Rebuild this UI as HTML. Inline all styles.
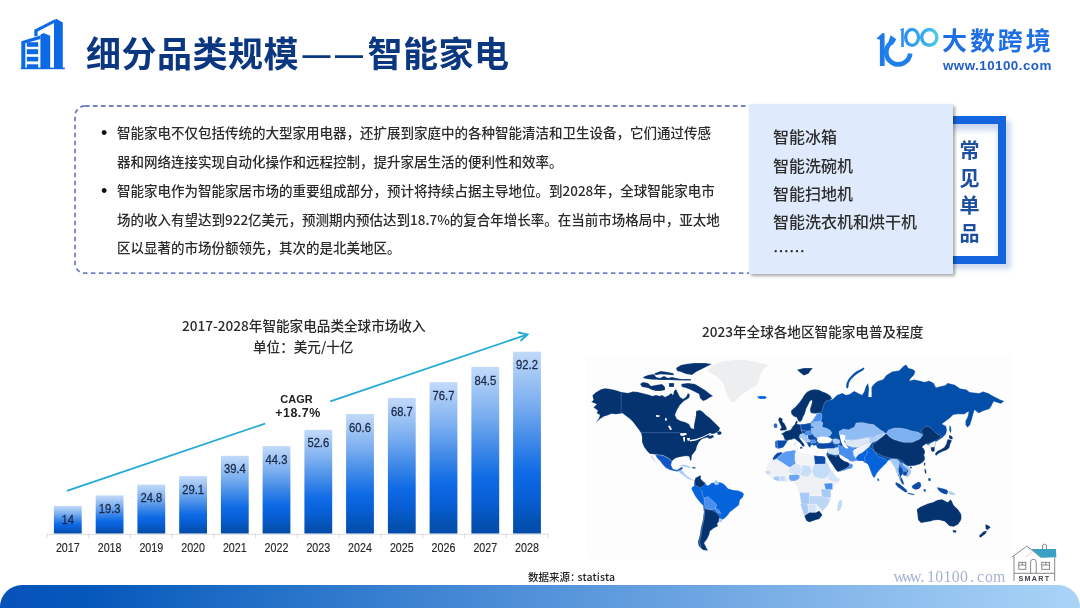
<!DOCTYPE html>
<html lang="zh-CN">
<head>
<meta charset="utf-8">
<title>细分品类规模——智能家电</title>
<style>
*{margin:0;padding:0;box-sizing:border-box}
html,body{width:1080px;height:608px;overflow:hidden;background:#fff}
body{position:relative;font-family:"Liberation Sans","Noto Sans CJK SC",sans-serif;color:#333}
.a{position:absolute;white-space:nowrap}
.cjk{font-family:"Noto Sans CJK SC","Liberation Sans",sans-serif}
#title{left:86px;top:27px;font-size:35px;font-weight:700;color:#0b3781;letter-spacing:0.5px;line-height:50px}
.dash{font-family:"Liberation Sans",sans-serif;font-size:28px;letter-spacing:4.5px;margin-left:3.5px;position:relative;top:-3.5px}
#logo-cn{left:942px;top:22px;font-size:25px;font-weight:700;color:#1d6fe3;line-height:34px;letter-spacing:2.9px}
#logo-url{left:943px;top:58px;font-size:13.4px;font-weight:700;color:#1f5fc6;line-height:16px;letter-spacing:0.45px}
.bl{font-size:13.5px;line-height:28.8px;color:#2b2b2b;font-weight:500}
.bu{font-family:"Liberation Sans",sans-serif;font-size:18px;line-height:28.8px;color:#111}
#lbox{left:749px;top:104px;width:204px;height:170px;background:#dfebfc;box-shadow:2px 2px 3px rgba(0,0,0,.35)}
.li{font-size:16px;line-height:28.4px;color:#2e2e2e;font-weight:500}
#frame{left:946px;top:116px;width:60px;height:148px;border:8.5px solid #1465dd;border-left:none;box-shadow:5px 5px 5px rgba(120,150,210,.35), inset 0 6px 6px rgba(120,150,210,.4)}
#vt{left:959px;top:136px;width:21px;font-size:20px;font-weight:700;color:#1d4fa0;line-height:27.6px;white-space:normal;text-align:center}
.ct{font-size:13.6px;color:#2a2a2a;line-height:18px;font-weight:500}
#botbar{left:0;top:585px;width:1080px;height:40px;border-radius:22px 22px 0 0;background:linear-gradient(90deg,#0652b9 0%,#0657bb 8%,#2371c8 25%,#5292d9 50%,#80b3e8 75%,#9ecbf3 92.6%,#aad3f6 100%)}
#wm{left:893.5px;top:568px;font-family:"Liberation Serif",serif;font-size:15.8px;color:#a7b1d2;line-height:18px;letter-spacing:0px}
#wm span{display:inline-block;width:8.3px;text-align:center}
#src{left:528px;top:569px;font-size:10.5px;color:#222;line-height:16px;font-weight:500}
</style>
</head>
<body>
<!-- header icon -->
<svg class="a" style="left:0;top:0" width="80" height="80" viewBox="0 0 80 80">
  <g fill="#0b69e6">
    <!-- right tall tower -->
    <path d="M54 21 L56.3 18.8 L62.8 22.6 L62.8 68.5 L54 68.5 Z"/>
    <!-- back frame -->
    <path d="M34.3 29.8 L55 19.2 L55 22.6 L37.6 31.6 L37.6 35.8 L34.3 36.6 Z"/>
    <!-- middle tower -->
    <path d="M40.4 34.8 L43.4 33 L50.2 35.8 L50.2 68.5 L40.4 68.5 Z"/>
    <!-- left building outline -->
    <path d="M21.3 68.5 L21.3 41.2 L40.4 35.6 L40.4 39 L25.3 43.2 L25.3 68.5 Z"/>
    <!-- windows -->
    <rect x="26.8" y="42.2" width="11.4" height="4.6"/>
    <rect x="26.8" y="49.2" width="11.4" height="5"/>
    <rect x="26.8" y="56.8" width="11.4" height="4.6"/>
    <rect x="26.8" y="64.3" width="11.4" height="4.4"/>
    <!-- base -->
    <rect x="20.8" y="67.6" width="44" height="1.6"/>
  </g>
</svg>
<div id="title" class="a cjk">细分品类规模<span class="dash">——</span>智能家电</div>

<!-- logo -->
<svg class="a" style="left:860px;top:15px" width="90" height="60" viewBox="860 15 90 60">
  <defs>
    <linearGradient id="lg1" x1="0" y1="0" x2="1" y2="0">
      <stop offset="0" stop-color="#2b8fee"/><stop offset="1" stop-color="#3aa8ec"/>
    </linearGradient>
    <linearGradient id="lg2" x1="0" y1="0" x2="1" y2="0"><stop offset="0" stop-color="#36a6ec"/><stop offset="1" stop-color="#4ccbe4"/></linearGradient>
  </defs>
  <path d="M876.5 38.5 L882.5 33 L884.6 33.5 L884.6 66 L879.9 66 L879.9 39.6 L878 39.3 Z" fill="#1e7ae8"/>
  <path d="M891.6 42.4 A12 12 0 1 0 910.2 53.6" fill="none" stroke="#1e80ea" stroke-width="4.7"/>
  <path d="M888.2 42.5 L890.6 35.2 L896.4 39.2 L893.2 44.5 Z" fill="#1e80ea"/>
  <path d="M899.6 29.8 L903.8 27.7 L903.8 47 L901.2 47 L901.2 30.8 Z" fill="#2c8eec"/>
  <ellipse cx="912.1" cy="37.4" rx="6.4" ry="8.0" fill="none" stroke="url(#lg1)" stroke-width="3.3"/>
  <ellipse cx="929.3" cy="37.4" rx="7.6" ry="7.9" fill="none" stroke="url(#lg2)" stroke-width="3.4"/>
</svg>
<div id="logo-cn" class="a cjk">大数跨境</div>
<div id="logo-url" class="a">www.10100.com</div>

<!-- text box -->
<svg class="a" style="left:0;top:0" width="1080" height="300" viewBox="0 0 1080 300"><rect x="75" y="106" width="700" height="167.2" rx="10" fill="none" stroke="#7080c4" stroke-width="1.8" stroke-dasharray="4.5 3.5"/></svg>
<div class="a bu" style="left:101px;top:118.5px">•</div>
<div class="a bl cjk" style="left:117px;top:118px">智能家电不仅包括传统的大型家用电器，还扩展到家庭中的各种智能清洁和卫生设备，它们通过传感</div>
<div class="a bl cjk" style="left:117px;top:147px">器和网络连接实现自动化操作和远程控制，提升家居生活的便利性和效率。</div>
<div class="a bu" style="left:101px;top:176.5px">•</div>
<div class="a bl cjk" style="left:117px;top:176px">智能家电作为智能家居市场的重要组成部分，预计将持续占据主导地位。到2028年，全球智能家电市</div>
<div class="a bl cjk" style="left:117px;top:205px">场的收入有望达到922亿美元，预测期内预估达到18.7%的复合年增长率。在当前市场格局中，亚太地</div>
<div class="a bl cjk" style="left:117px;top:233px">区以显著的市场份额领先，其次的是北美地区。</div>

<div id="frame" class="a"></div>
<div id="lbox" class="a"></div>
<div class="a li cjk" style="left:773px;top:122px">智能冰箱</div>
<div class="a li cjk" style="left:773px;top:151px">智能洗碗机</div>
<div class="a li cjk" style="left:773px;top:179px">智能扫地机</div>
<div class="a li cjk" style="left:773px;top:207px">智能洗衣机和烘干机</div>
<div class="a li cjk" style="left:773px;top:236px">……</div>
<div id="vt" class="a cjk">常见单品</div>

<!-- bar chart -->
<div class="a ct cjk" style="left:182px;top:315.6px">2017-2028年智能家电品类全球市场收入</div>
<div class="a ct cjk" style="left:253px;top:336.8px">单位：美元/十亿</div>
<svg id="bars" class="a" style="left:0;top:300px" width="560" height="260" viewBox="0 300 560 260"><defs><linearGradient id="bg" x1="0" y1="0" x2="0" y2="1"><stop offset="0" stop-color="#c2daf9"/><stop offset="0.29" stop-color="#7aaef0"/><stop offset="0.485" stop-color="#418ae8"/><stop offset="0.67" stop-color="#0e6ae5"/><stop offset="0.8" stop-color="#085fd6"/><stop offset="0.945" stop-color="#0350b0"/><stop offset="1" stop-color="#034cab"/></linearGradient></defs>
<line x1="46.9" y1="534.3" x2="547.9" y2="534.3" stroke="#dedede" stroke-width="1"/>
<line x1="46.9" y1="533.5" x2="46.9" y2="538.0" stroke="#d9d9d9" stroke-width="1"/>
<line x1="88.7" y1="533.5" x2="88.7" y2="538.0" stroke="#d9d9d9" stroke-width="1"/>
<line x1="130.4" y1="533.5" x2="130.4" y2="538.0" stroke="#d9d9d9" stroke-width="1"/>
<line x1="172.2" y1="533.5" x2="172.2" y2="538.0" stroke="#d9d9d9" stroke-width="1"/>
<line x1="213.9" y1="533.5" x2="213.9" y2="538.0" stroke="#d9d9d9" stroke-width="1"/>
<line x1="255.7" y1="533.5" x2="255.7" y2="538.0" stroke="#d9d9d9" stroke-width="1"/>
<line x1="297.4" y1="533.5" x2="297.4" y2="538.0" stroke="#d9d9d9" stroke-width="1"/>
<line x1="339.2" y1="533.5" x2="339.2" y2="538.0" stroke="#d9d9d9" stroke-width="1"/>
<line x1="380.9" y1="533.5" x2="380.9" y2="538.0" stroke="#d9d9d9" stroke-width="1"/>
<line x1="422.7" y1="533.5" x2="422.7" y2="538.0" stroke="#d9d9d9" stroke-width="1"/>
<line x1="464.4" y1="533.5" x2="464.4" y2="538.0" stroke="#d9d9d9" stroke-width="1"/>
<line x1="506.2" y1="533.5" x2="506.2" y2="538.0" stroke="#d9d9d9" stroke-width="1"/>
<line x1="547.9" y1="533.5" x2="547.9" y2="538.0" stroke="#d9d9d9" stroke-width="1"/>
<rect x="53.9" y="505.9" width="27.8" height="27.6" fill="url(#bg)"/>
<text transform="translate(67.8 523.5) scale(0.89 1)" text-anchor="middle" font-family="Liberation Sans, sans-serif" font-size="12.6" fill="#1b2a46" stroke="#1b2a46" stroke-width="0.3">14</text>
<text transform="translate(67.8 552.1) scale(0.85 1)" text-anchor="middle" font-family="Liberation Sans, sans-serif" font-size="12.6" fill="#262626" stroke="#262626" stroke-width="0.15">2017</text>
<rect x="95.7" y="495.4" width="27.8" height="38.1" fill="url(#bg)"/>
<text transform="translate(109.6 513.0) scale(0.89 1)" text-anchor="middle" font-family="Liberation Sans, sans-serif" font-size="12.6" fill="#1b2a46" stroke="#1b2a46" stroke-width="0.3">19.3</text>
<text transform="translate(109.6 552.1) scale(0.85 1)" text-anchor="middle" font-family="Liberation Sans, sans-serif" font-size="12.6" fill="#262626" stroke="#262626" stroke-width="0.15">2018</text>
<rect x="137.4" y="484.6" width="27.8" height="48.9" fill="url(#bg)"/>
<text transform="translate(151.3 502.2) scale(0.89 1)" text-anchor="middle" font-family="Liberation Sans, sans-serif" font-size="12.6" fill="#1b2a46" stroke="#1b2a46" stroke-width="0.3">24.8</text>
<text transform="translate(151.3 552.1) scale(0.85 1)" text-anchor="middle" font-family="Liberation Sans, sans-serif" font-size="12.6" fill="#262626" stroke="#262626" stroke-width="0.15">2019</text>
<rect x="179.2" y="476.1" width="27.8" height="57.4" fill="url(#bg)"/>
<text transform="translate(193.1 493.7) scale(0.89 1)" text-anchor="middle" font-family="Liberation Sans, sans-serif" font-size="12.6" fill="#1b2a46" stroke="#1b2a46" stroke-width="0.3">29.1</text>
<text transform="translate(193.1 552.1) scale(0.85 1)" text-anchor="middle" font-family="Liberation Sans, sans-serif" font-size="12.6" fill="#262626" stroke="#262626" stroke-width="0.15">2020</text>
<rect x="220.9" y="455.8" width="27.8" height="77.7" fill="url(#bg)"/>
<text transform="translate(234.8 473.4) scale(0.89 1)" text-anchor="middle" font-family="Liberation Sans, sans-serif" font-size="12.6" fill="#1b2a46" stroke="#1b2a46" stroke-width="0.3">39.4</text>
<text transform="translate(234.8 552.1) scale(0.85 1)" text-anchor="middle" font-family="Liberation Sans, sans-serif" font-size="12.6" fill="#262626" stroke="#262626" stroke-width="0.15">2021</text>
<rect x="262.6" y="446.1" width="27.8" height="87.4" fill="url(#bg)"/>
<text transform="translate(276.5 463.7) scale(0.89 1)" text-anchor="middle" font-family="Liberation Sans, sans-serif" font-size="12.6" fill="#1b2a46" stroke="#1b2a46" stroke-width="0.3">44.3</text>
<text transform="translate(276.5 552.1) scale(0.85 1)" text-anchor="middle" font-family="Liberation Sans, sans-serif" font-size="12.6" fill="#262626" stroke="#262626" stroke-width="0.15">2022</text>
<rect x="304.4" y="429.8" width="27.8" height="103.7" fill="url(#bg)"/>
<text transform="translate(318.3 447.4) scale(0.89 1)" text-anchor="middle" font-family="Liberation Sans, sans-serif" font-size="12.6" fill="#1b2a46" stroke="#1b2a46" stroke-width="0.3">52.6</text>
<text transform="translate(318.3 552.1) scale(0.85 1)" text-anchor="middle" font-family="Liberation Sans, sans-serif" font-size="12.6" fill="#262626" stroke="#262626" stroke-width="0.15">2023</text>
<rect x="346.1" y="414.0" width="27.8" height="119.5" fill="url(#bg)"/>
<text transform="translate(360.0 431.6) scale(0.89 1)" text-anchor="middle" font-family="Liberation Sans, sans-serif" font-size="12.6" fill="#1b2a46" stroke="#1b2a46" stroke-width="0.3">60.6</text>
<text transform="translate(360.0 552.1) scale(0.85 1)" text-anchor="middle" font-family="Liberation Sans, sans-serif" font-size="12.6" fill="#262626" stroke="#262626" stroke-width="0.15">2024</text>
<rect x="387.9" y="398.0" width="27.8" height="135.5" fill="url(#bg)"/>
<text transform="translate(401.8 415.6) scale(0.89 1)" text-anchor="middle" font-family="Liberation Sans, sans-serif" font-size="12.6" fill="#1b2a46" stroke="#1b2a46" stroke-width="0.3">68.7</text>
<text transform="translate(401.8 552.1) scale(0.85 1)" text-anchor="middle" font-family="Liberation Sans, sans-serif" font-size="12.6" fill="#262626" stroke="#262626" stroke-width="0.15">2025</text>
<rect x="429.6" y="382.2" width="27.8" height="151.3" fill="url(#bg)"/>
<text transform="translate(443.5 399.8) scale(0.89 1)" text-anchor="middle" font-family="Liberation Sans, sans-serif" font-size="12.6" fill="#1b2a46" stroke="#1b2a46" stroke-width="0.3">76.7</text>
<text transform="translate(443.5 552.1) scale(0.85 1)" text-anchor="middle" font-family="Liberation Sans, sans-serif" font-size="12.6" fill="#262626" stroke="#262626" stroke-width="0.15">2026</text>
<rect x="471.4" y="366.9" width="27.8" height="166.6" fill="url(#bg)"/>
<text transform="translate(485.3 384.5) scale(0.89 1)" text-anchor="middle" font-family="Liberation Sans, sans-serif" font-size="12.6" fill="#1b2a46" stroke="#1b2a46" stroke-width="0.3">84.5</text>
<text transform="translate(485.3 552.1) scale(0.85 1)" text-anchor="middle" font-family="Liberation Sans, sans-serif" font-size="12.6" fill="#262626" stroke="#262626" stroke-width="0.15">2027</text>
<rect x="513.1" y="351.7" width="27.8" height="181.8" fill="url(#bg)"/>
<text transform="translate(527.0 369.3) scale(0.89 1)" text-anchor="middle" font-family="Liberation Sans, sans-serif" font-size="12.6" fill="#1b2a46" stroke="#1b2a46" stroke-width="0.3">92.2</text>
<text transform="translate(527.0 552.1) scale(0.85 1)" text-anchor="middle" font-family="Liberation Sans, sans-serif" font-size="12.6" fill="#262626" stroke="#262626" stroke-width="0.15">2028</text>
<g stroke="#22aad6" stroke-width="1.8" fill="none" stroke-linecap="round"><line x1="67.6" y1="490.6" x2="264.4" y2="423.8"/><line x1="331" y1="401.1" x2="527" y2="334.6"/><polyline points="518.5,332.5 527.5,334.4 521,340.5"/></g>
<text x="296.5" y="402.5" text-anchor="middle" font-family="Liberation Sans, sans-serif" font-weight="bold" font-size="11" fill="#222">CAGR</text>
<text x="298" y="416.7" text-anchor="middle" font-family="Liberation Sans, sans-serif" font-weight="bold" font-size="12.4" letter-spacing="0.5" fill="#222">+18.7%</text></svg>

<!-- map -->
<div class="a ct cjk" style="left:702px;top:321.6px">2023年全球各地区智能家电普及程度</div>
<svg id="map" class="a" style="left:570px;top:340px" width="450" height="230" viewBox="570 340 450 230"><rect x="586" y="355" width="426" height="204" fill="#fdfdfd"/>
<path d="M595.6 392.4 L601.0 389.2 L605.3 388.2 L611.7 389.2 L616.0 390.3 L621.3 391.9 L628.0 393.0 L633.0 391.5 L638.0 392.0 L642.0 393.0 L646.0 394.0 L650.0 395.0 L652.0 396.0 L656.0 395.0 L660.0 396.0 L662.0 395.0 L665.0 397.0 L669.0 395.0 L671.0 393.0 L673.0 395.0 L674.0 391.0 L676.0 389.0 L678.0 393.0 L680.0 397.0 L683.0 399.0 L686.0 397.0 L688.0 393.0 L690.0 395.0 L689.0 398.0 L686.0 400.0 L684.0 401.0 L680.0 405.0 L677.0 410.0 L675.0 415.0 L677.0 419.0 L681.0 421.0 L685.0 422.0 L689.0 424.0 L691.0 428.0 L694.0 429.0 L694.0 425.0 L695.0 420.0 L696.0 415.0 L696.0 411.0 L700.0 410.0 L703.0 412.0 L706.0 415.0 L710.0 418.0 L713.0 421.0 L717.0 425.0 L720.0 428.0 L719.0 431.0 L716.0 433.0 L713.0 434.0 L710.0 433.5 L709.0 436.0 L713.0 435.0 L714.0 437.0 L710.0 439.0 L707.0 437.5 L702.0 439.0 L699.0 442.0 L697.0 446.0 L696.0 450.0 L693.0 454.0 L692.0 455.3 L691.4 459.9 L690.3 461.1 L689.1 456.5 L686.0 456.0 L680.0 457.0 L676.0 458.0 L673.0 460.0 L672.0 461.5 L669.0 458.5 L663.0 455.5 L655.0 454.5 L651.7 454.0 L650.0 454.0 L647.0 451.0 L644.0 447.0 L642.0 442.0 L642.0 437.0 L641.0 433.0 L639.0 430.0 L636.0 426.0 L633.0 422.0 L630.0 419.0 L626.0 416.0 L622.0 413.0 L621.5 413.5 L616.0 414.3 L611.5 413.8 L608.0 415.3 L604.0 416.5 L600.0 419.0 L595.5 423.0 L599.0 418.0 L599.9 414.9 L596.7 413.3 L597.8 410.6 L593.5 407.4 L596.7 404.2 L591.3 402.0 L593.5 400.0 L592.4 395.6Z" fill="#053370" stroke="#ffffff" stroke-opacity="0.55" stroke-width="0.4"/>
<path d="M680.0 433.3 L686.0 433.0 L687.0 434.5 L683.0 436.0 L680.5 435.5Z" fill="#ffffff"/>
<path d="M683.0 437.0 L685.0 437.0 L685.0 442.0 L683.5 441.0Z" fill="#ffffff"/>
<path d="M687.0 438.0 L690.0 438.0 L689.5 441.0 L687.5 440.5Z" fill="#ffffff"/>
<path d="M690.0 440.0 L696.0 439.0 L703.0 436.5 L710.0 433.0 L710.5 433.8 L703.0 437.5 L696.0 440.5 L690.0 441.5Z" fill="#ffffff"/>
<path d="M656.0 415.0 L660.0 415.5 L659.0 417.0 L656.0 416.8Z" fill="#ffffff"/>
<path d="M665.0 418.0 L667.0 418.5 L666.5 421.0 L665.0 420.5Z" fill="#ffffff"/>
<path d="M668.0 426.0 L670.0 425.5 L672.0 429.5 L670.0 430.0Z" fill="#ffffff"/>
<path d="M640.0 384.0 L643.0 382.0 L648.0 383.0 L651.0 386.0 L656.0 385.0 L662.0 384.0 L665.0 387.0 L665.0 390.0 L661.0 391.0 L656.0 391.0 L652.0 390.0 L648.0 388.0 L642.0 387.0Z" fill="#053370" stroke="#ffffff" stroke-opacity="0.55" stroke-width="0.4"/>
<path d="M643.0 377.0 L648.0 375.0 L654.0 374.0 L656.0 377.0 L660.0 378.0 L664.0 376.0 L668.0 378.0 L672.0 377.0 L676.0 378.0 L681.0 379.0 L691.0 379.0 L691.0 380.5 L681.0 380.5 L671.0 380.0 L661.0 380.0 L651.0 379.5 L644.0 378.5Z" fill="#053370" stroke="#ffffff" stroke-opacity="0.55" stroke-width="0.4"/>
<path d="M676.0 368.0 L681.0 365.0 L686.0 364.0 L694.0 363.0 L705.0 363.0 L712.0 364.0 L708.0 366.0 L702.0 369.0 L696.0 372.0 L692.0 375.0 L686.0 374.0 L681.0 372.0 L677.0 371.0Z" fill="#053370" stroke="#ffffff" stroke-opacity="0.55" stroke-width="0.4"/>
<path d="M669.0 383.0 L674.0 383.0 L674.0 387.0 L669.0 387.0Z" fill="#053370" stroke="#ffffff" stroke-opacity="0.55" stroke-width="0.4"/>
<path d="M654.4 373.2 L660.9 371.0 L667.3 372.1 L673.7 373.2 L673.7 375.3 L667.3 374.8 L660.9 374.3 L655.5 375.3Z" fill="#053370" stroke="#ffffff" stroke-opacity="0.55" stroke-width="0.4"/>
<path d="M681.0 384.0 L688.0 383.0 L695.0 384.0 L700.0 387.0 L705.0 390.0 L710.0 394.0 L713.0 396.0 L709.0 398.0 L706.0 400.0 L703.0 401.0 L700.0 398.0 L699.0 394.0 L695.0 392.0 L691.0 390.0 L686.0 388.0 L682.0 387.0Z" fill="#053370" stroke="#ffffff" stroke-opacity="0.55" stroke-width="0.4"/>
<path d="M717.0 432.0 L720.0 431.0 L722.0 433.0 L720.0 435.0 L717.5 434.5Z" fill="#053370" stroke="#ffffff" stroke-opacity="0.55" stroke-width="0.4"/>
<path d="M707.0 370.0 L715.0 364.0 L725.0 361.0 L735.0 360.0 L745.0 360.0 L755.0 362.0 L766.0 364.0 L768.0 365.0 L763.0 370.0 L760.0 375.0 L759.0 381.0 L756.0 386.0 L750.0 389.0 L744.0 393.0 L739.0 397.0 L734.0 402.0 L731.0 402.0 L728.0 397.0 L725.0 389.0 L723.0 383.0 L718.0 377.0 L712.0 374.0Z" fill="#edeef0"/>
<path d="M757.0 396.5 L760.0 396.0 L765.0 396.0 L767.0 397.5 L765.0 399.0 L760.0 399.0 L758.0 398.0Z" fill="#0564dc" stroke="#ffffff" stroke-opacity="0.55" stroke-width="0.4"/>
<path d="M655.0 454.5 L663.0 455.5 L669.0 458.5 L672.0 461.5 L671.0 465.0 L673.0 469.0 L677.0 470.0 L680.0 468.0 L682.0 466.5 L683.0 468.5 L680.0 471.0 L677.0 471.5 L674.0 471.0 L670.0 470.0 L666.0 468.0 L663.0 465.0 L660.0 461.0 L657.0 458.0Z" fill="#1256c4" stroke="#ffffff" stroke-opacity="0.55" stroke-width="0.4"/>
<path d="M651.0 455.0 L653.0 458.0 L656.0 462.0 L657.0 463.5 L655.0 461.0 L652.0 457.5Z" fill="#1256c4" stroke="#ffffff" stroke-opacity="0.55" stroke-width="0.4"/>
<path d="M678.0 471.0 L682.0 470.0 L684.0 473.0 L687.0 476.0 L690.0 478.0 L694.0 480.0 L695.0 481.0 L692.0 480.0 L688.0 479.0 L684.0 476.0 L680.0 473.0Z" fill="#a6c9f5" stroke="#ffffff" stroke-opacity="0.55" stroke-width="0.4"/>
<path d="M679.0 465.0 L684.0 464.5 L689.0 466.0 L692.0 467.5 L688.0 467.8 L683.0 466.3Z" fill="#a6c9f5" stroke="#ffffff" stroke-opacity="0.55" stroke-width="0.4"/>
<path d="M692.0 467.0 L695.0 467.0 L696.0 468.5 L692.5 468.5Z" fill="#0a4aa8" stroke="#ffffff" stroke-opacity="0.55" stroke-width="0.4"/>
<path d="M694.5 481.0 L695.5 478.0 L700.0 475.5 L701.0 476.0 L700.5 478.5 L703.0 481.5 L705.0 482.5 L707.0 485.5 L710.0 484.5 L711.0 483.0 L714.0 482.5 L716.0 480.0 L718.0 482.0 L721.0 482.5 L723.0 483.5 L725.0 485.0 L728.0 488.5 L733.0 490.0 L738.0 490.5 L742.0 492.0 L744.0 494.0 L743.0 497.0 L740.0 500.0 L739.0 505.0 L734.0 509.0 L730.0 512.0 L728.0 515.0 L725.0 518.0 L722.0 520.0 L722.0 522.0 L719.0 521.5 L717.0 524.0 L718.0 526.0 L714.0 528.0 L710.0 531.0 L709.0 535.0 L707.0 539.0 L704.0 543.0 L707.0 549.0 L708.0 550.5 L703.0 550.0 L699.0 546.0 L698.0 542.0 L700.0 535.0 L701.0 528.0 L703.0 520.0 L704.0 512.0 L703.5 507.0 L703.0 505.5 L701.0 503.5 L698.0 500.0 L695.0 496.0 L693.0 492.0 L691.5 489.0 L692.0 487.0 L694.0 486.0 L694.0 483.0Z" fill="#0564dc" stroke="#ffffff" stroke-opacity="0.55" stroke-width="0.4"/>
<path d="M695.5 478.0 L700.0 475.5 L701.0 476.0 L700.5 478.5 L703.0 481.5 L705.0 482.5 L704.5 485.0 L702.5 486.5 L700.0 488.0 L697.5 486.5 L695.0 485.0 L694.5 481.0Z" fill="#053370" stroke="#ffffff" stroke-opacity="0.55" stroke-width="0.4"/>
<path d="M714.0 482.5 L716.0 480.0 L718.0 482.0 L719.0 484.0 L716.0 485.0 L714.5 484.0Z" fill="#a6c9f5" stroke="#ffffff" stroke-opacity="0.55" stroke-width="0.4"/>
<path d="M704.0 498.0 L708.0 496.5 L713.0 501.0 L717.0 505.0 L715.0 509.0 L710.0 510.0 L706.0 509.0 L704.5 505.0Z" fill="#4a8ff0" stroke="#ffffff" stroke-opacity="0.55" stroke-width="0.4"/>
<path d="M715.0 508.0 L719.0 510.0 L721.0 514.0 L718.0 513.0 L716.0 511.0Z" fill="#4a8ff0" stroke="#ffffff" stroke-opacity="0.55" stroke-width="0.4"/>
<path d="M703.0 505.5 L706.0 509.0 L710.0 510.0 L712.0 510.0 L717.0 513.0 L720.0 517.0 L719.0 521.0 L717.0 524.0 L718.0 526.0 L714.0 528.0 L710.0 531.0 L709.0 535.0 L707.0 539.0 L704.0 543.0 L707.0 549.0 L708.0 550.5 L703.0 550.0 L699.0 546.0 L698.0 542.0 L700.0 535.0 L701.0 528.0 L703.0 520.0 L704.0 512.0 L703.5 507.0Z" fill="#053370" stroke="#ffffff" stroke-opacity="0.55" stroke-width="0.4"/>
<path d="M719.0 518.5 L722.0 519.0 L722.0 522.0 L719.0 521.5Z" fill="#a6c9f5" stroke="#ffffff" stroke-opacity="0.55" stroke-width="0.4"/>
<path d="M779.0 448.5 L776.0 448.0 L775.0 445.0 L775.0 441.5 L777.0 440.5 L781.0 440.5 L784.5 440.6 L784.5 439.0 L784.0 437.5 L783.0 435.0 L781.0 434.0 L783.0 433.0 L786.0 431.0 L789.0 430.5 L791.0 429.5 L792.0 428.0 L793.0 426.0 L794.5 425.0 L795.5 422.5 L796.5 420.5 L797.5 421.5 L797.0 424.0 L800.0 424.5 L805.0 424.0 L810.0 423.0 L813.0 420.0 L815.0 417.0 L817.0 414.0 L820.0 413.0 L815.0 413.5 L811.0 413.0 L810.0 410.0 L811.0 406.0 L812.0 403.0 L812.0 400.0 L810.0 401.0 L808.0 405.0 L806.0 409.0 L805.0 413.0 L803.0 417.0 L802.0 420.0 L800.0 422.0 L798.0 420.5 L797.0 417.5 L794.0 416.5 L791.5 414.0 L791.0 411.0 L793.0 409.0 L796.0 406.5 L799.0 403.0 L802.0 399.0 L804.0 395.5 L807.0 392.0 L811.0 390.0 L815.0 389.5 L819.0 390.0 L822.0 391.5 L826.0 393.0 L830.0 395.5 L832.0 398.5 L830.0 400.0 L833.0 399.0 L835.0 397.0 L837.0 395.0 L840.0 394.0 L842.0 393.0 L846.0 395.0 L850.0 394.0 L854.0 391.0 L858.0 393.0 L862.0 395.0 L864.0 392.0 L866.0 386.0 L868.0 383.0 L869.0 388.0 L868.5 397.0 L871.5 397.0 L871.5 387.0 L875.0 383.0 L878.4 380.7 L883.0 379.6 L886.5 375.0 L892.3 371.5 L899.2 370.4 L903.8 365.8 L906.1 364.6 L908.4 368.1 L913.0 369.2 L915.3 371.5 L914.1 375.0 L910.7 378.4 L909.5 380.7 L914.1 379.6 L919.9 380.7 L924.5 381.9 L929.1 380.7 L933.7 383.0 L936.0 387.6 L939.5 386.5 L945.3 385.3 L947.6 383.0 L954.7 384.7 L960.0 388.4 L966.3 389.5 L969.5 392.1 L978.9 393.2 L983.2 391.6 L988.4 393.2 L993.7 396.3 L1000.0 399.5 L1004.2 401.1 L1001.0 403.7 L993.7 401.6 L991.6 405.8 L989.5 408.9 L983.2 411.1 L978.9 413.2 L974.5 410.0 L973.0 415.0 L972.0 419.0 L970.0 425.0 L967.5 427.5 L965.5 425.0 L965.5 421.0 L968.0 416.0 L968.5 411.5 L964.2 414.2 L956.8 414.2 L953.0 415.0 L950.0 418.0 L946.0 421.0 L942.0 424.0 L946.0 426.0 L947.0 430.0 L946.0 434.0 L942.0 438.0 L939.0 440.0 L936.0 442.0 L935.0 446.0 L934.5 451.0 L932.5 452.0 L931.0 450.0 L930.5 447.0 L928.0 445.0 L926.0 444.0 L924.0 445.0 L922.0 447.0 L924.0 449.0 L925.0 452.0 L924.0 455.0 L925.0 459.0 L923.0 462.0 L920.0 464.0 L915.0 465.5 L910.0 466.0 L906.0 466.0 L903.0 465.0 L905.0 465.0 L909.0 467.0 L911.0 472.0 L908.0 477.0 L906.0 476.0 L904.0 474.0 L902.0 474.0 L901.0 475.0 L900.0 474.0 L899.0 476.0 L901.0 478.0 L903.0 482.0 L904.0 484.0 L902.0 484.0 L900.0 480.0 L899.0 476.5 L898.0 476.0 L897.0 471.0 L897.0 467.0 L895.0 464.0 L893.0 462.0 L891.0 461.0 L889.0 460.0 L887.7 461.0 L886.2 463.2 L884.0 465.3 L881.1 468.2 L879.0 470.4 L876.8 473.3 L875.3 476.2 L873.9 477.7 L872.4 475.5 L871.0 471.9 L869.6 468.2 L868.1 464.6 L866.7 463.2 L864.5 462.4 L863.0 461.0 L860.1 461.0 L857.2 460.5 L855.0 461.0 L852.0 461.5 L850.0 461.0 L848.0 459.0 L846.0 458.0 L843.0 456.0 L841.0 455.0 L839.0 454.0 L838.0 455.0 L840.0 458.0 L844.0 461.0 L847.0 462.0 L849.0 463.0 L853.0 465.0 L852.0 468.0 L848.0 469.0 L844.0 470.5 L840.0 471.5 L838.0 472.0 L836.0 470.0 L834.0 467.0 L832.0 464.0 L830.0 461.0 L828.0 458.0 L827.0 456.0 L826.0 455.0 L827.0 453.0 L828.0 450.0 L829.0 448.5 L827.0 448.2 L822.0 448.5 L818.0 448.0 L816.5 446.0 L815.5 445.0 L814.0 446.0 L812.0 444.5 L811.0 446.0 L810.0 447.5 L808.5 446.0 L807.5 444.0 L806.0 442.0 L804.5 440.5 L802.0 438.5 L799.0 436.8 L800.0 439.0 L802.0 441.5 L804.0 444.0 L804.5 446.2 L803.0 446.5 L802.0 445.5 L801.0 444.0 L799.0 442.0 L797.0 440.5 L795.0 438.8 L793.5 438.5 L792.0 439.5 L789.5 439.8 L787.5 440.7 L786.5 442.5 L785.0 445.0 L783.0 447.5Z" fill="#034ea8" stroke="#ffffff" stroke-opacity="0.55" stroke-width="0.4"/>
<path d="M820.0 413.0 L815.0 413.5 L811.0 413.0 L810.0 410.0 L811.0 406.0 L812.0 403.0 L812.0 400.0 L810.0 401.0 L808.0 405.0 L806.0 409.0 L805.0 413.0 L803.0 417.0 L802.0 420.0 L800.0 422.0 L798.0 420.5 L797.0 417.5 L794.0 416.5 L791.5 414.0 L791.0 411.0 L793.0 409.0 L796.0 406.5 L799.0 403.0 L802.0 399.0 L804.0 395.5 L807.0 392.0 L811.0 390.0 L815.0 389.5 L819.0 390.0 L822.0 391.5 L826.0 393.0 L830.0 395.5 L832.0 398.5 L830.0 400.0 L826.0 401.0 L824.0 404.0 L823.0 408.0 L822.0 411.0Z" fill="#053370" stroke="#ffffff" stroke-opacity="0.55" stroke-width="0.4"/>
<path d="M781.0 434.0 L783.0 433.0 L786.0 431.0 L789.0 430.5 L791.0 429.5 L792.0 428.0 L793.0 426.0 L794.5 425.0 L795.5 422.5 L796.5 420.5 L797.5 421.5 L797.0 424.0 L800.0 424.5 L801.0 426.0 L801.0 430.0 L803.0 433.0 L800.0 434.5 L799.0 436.8 L800.0 439.0 L802.0 441.5 L804.0 444.0 L804.5 446.2 L803.0 446.5 L802.0 445.5 L801.0 444.0 L799.0 442.0 L797.0 440.5 L795.0 438.8 L793.5 438.5 L792.0 439.5 L789.5 439.8 L787.5 440.7 L786.0 440.0 L784.5 439.0 L784.0 437.5 L783.0 435.0Z" fill="#053370" stroke="#ffffff" stroke-opacity="0.55" stroke-width="0.4"/>
<path d="M775.0 441.5 L777.0 440.5 L781.0 440.5 L784.5 440.6 L787.5 440.7 L786.5 442.5 L785.0 445.0 L783.0 447.5 L779.0 448.5 L776.0 448.0 L775.0 445.0Z" fill="#0a4aa8" stroke="#ffffff" stroke-opacity="0.55" stroke-width="0.4"/>
<path d="M775.0 441.5 L777.3 441.3 L777.8 447.9 L776.0 448.0 L775.0 445.0Z" fill="#2b68cc" stroke="#ffffff" stroke-opacity="0.55" stroke-width="0.4"/>
<path d="M800.0 424.5 L805.0 424.0 L810.0 423.0 L811.0 425.0 L811.5 428.0 L810.0 431.0 L805.0 431.0 L801.0 430.0 L801.0 426.0Z" fill="#0a4aa8" stroke="#ffffff" stroke-opacity="0.55" stroke-width="0.4"/>
<path d="M801.0 430.0 L805.0 431.0 L807.0 431.5 L807.0 433.0 L803.0 433.5Z" fill="#0a4aa8" stroke="#ffffff" stroke-opacity="0.55" stroke-width="0.4"/>
<path d="M805.0 433.0 L807.0 431.5 L810.0 431.0 L812.0 432.5 L811.0 435.5 L806.0 436.0 L803.0 434.5Z" fill="#4a8ff0" stroke="#ffffff" stroke-opacity="0.55" stroke-width="0.4"/>
<path d="M800.0 434.5 L803.0 433.5 L806.0 436.0 L808.0 435.0 L808.0 438.5 L810.5 440.0 L810.0 442.5 L807.5 442.0 L806.0 442.0 L804.5 440.5 L802.0 438.5 L799.5 436.8Z" fill="#a6c9f5" stroke="#ffffff" stroke-opacity="0.55" stroke-width="0.4"/>
<path d="M808.0 435.0 L812.0 434.5 L816.0 435.5 L817.0 438.0 L814.5 440.0 L810.5 440.0 L808.0 438.5Z" fill="#0a4aa8" stroke="#ffffff" stroke-opacity="0.55" stroke-width="0.4"/>
<path d="M810.5 440.0 L814.5 440.0 L816.5 441.5 L815.5 443.0 L811.0 443.0Z" fill="#4a8ff0" stroke="#ffffff" stroke-opacity="0.55" stroke-width="0.4"/>
<path d="M807.5 442.0 L810.0 442.5 L811.5 443.0 L811.0 444.5 L810.0 447.5 L808.5 446.0 L807.5 444.0Z" fill="#0a4aa8" stroke="#ffffff" stroke-opacity="0.55" stroke-width="0.4"/>
<path d="M813.0 420.0 L815.0 417.0 L817.0 414.0 L820.0 413.0 L822.0 414.0 L822.0 418.0 L821.0 421.0 L816.0 422.0 L812.0 422.0Z" fill="#4a8ff0" stroke="#ffffff" stroke-opacity="0.55" stroke-width="0.4"/>
<path d="M811.0 422.5 L816.0 422.0 L821.0 421.0 L823.0 423.0 L822.0 427.0 L815.0 428.0 L811.5 426.0Z" fill="#8fbcf3" stroke="#ffffff" stroke-opacity="0.55" stroke-width="0.4"/>
<path d="M811.5 428.0 L815.0 428.0 L822.0 427.0 L826.0 428.0 L830.0 430.0 L832.0 433.0 L830.0 436.0 L826.0 437.5 L821.0 437.6 L817.0 438.0 L814.5 436.5 L812.0 433.0 L811.0 430.0Z" fill="#8fbcf3" stroke="#ffffff" stroke-opacity="0.55" stroke-width="0.4"/>
<path d="M816.7 444.0 L819.0 443.3 L823.0 443.5 L828.0 443.2 L831.5 442.5 L834.0 443.5 L836.0 445.0 L835.5 448.0 L832.0 449.0 L827.0 448.5 L822.0 449.0 L818.0 448.5 L816.5 446.5Z" fill="#0a4aa8" stroke="#ffffff" stroke-opacity="0.55" stroke-width="0.4"/>
<path d="M832.0 439.5 L836.0 438.5 L839.5 440.0 L840.0 443.0 L837.0 444.0 L834.0 443.5Z" fill="#a6c9f5" stroke="#ffffff" stroke-opacity="0.55" stroke-width="0.4"/>
<path d="M839.0 431.3 L843.3 429.0 L848.5 429.8 L854.4 426.9 L856.0 423.1 L861.9 422.4 L869.3 423.9 L873.7 424.6 L876.7 426.9 L880.4 429.8 L884.1 432.0 L884.1 432.8 L881.1 434.3 L876.7 435.0 L873.7 437.2 L867.8 437.2 L861.9 438.7 L857.4 439.4 L851.5 440.2 L845.6 439.4 L841.0 437.0 L839.0 434.0Z" fill="#8fbcf3" stroke="#ffffff" stroke-opacity="0.55" stroke-width="0.4"/>
<path d="M841.0 437.0 L845.6 439.4 L851.5 440.2 L857.4 439.4 L861.9 438.7 L867.8 437.2 L870.7 440.0 L868.0 443.0 L863.0 444.5 L858.0 447.5 L853.0 447.5 L848.5 446.0 L846.0 444.6 L845.0 441.0Z" fill="#dde8f7" stroke="#ffffff" stroke-opacity="0.55" stroke-width="0.4"/>
<path d="M867.8 437.2 L873.7 437.2 L876.7 435.0 L881.1 434.3 L884.1 432.8 L886.1 433.4 L883.8 435.7 L878.0 440.3 L874.0 442.0 L872.0 442.5 L868.0 443.0 L870.7 440.0Z" fill="#b5d1f5" stroke="#ffffff" stroke-opacity="0.55" stroke-width="0.4"/>
<path d="M838.0 444.6 L841.0 446.0 L846.0 446.5 L848.5 446.0 L853.0 447.5 L855.0 449.0 L853.0 451.0 L854.0 456.0 L855.8 458.1 L857.0 460.0 L855.0 461.0 L852.0 461.5 L850.0 461.0 L848.0 459.0 L846.0 458.0 L843.0 456.0 L841.0 455.0 L839.0 452.0 L838.0 448.0Z" fill="#4a8ff0" stroke="#ffffff" stroke-opacity="0.55" stroke-width="0.4"/>
<path d="M858.0 447.5 L863.0 444.5 L868.0 443.0 L872.0 442.5 L869.0 447.0 L866.0 449.4 L863.0 452.3 L858.7 454.5 L855.8 458.1 L854.0 456.0 L853.0 451.0 L855.0 449.0Z" fill="#eef2f8" stroke="#ffffff" stroke-opacity="0.55" stroke-width="0.4"/>
<path d="M827.0 449.0 L829.0 448.5 L834.0 448.5 L838.0 447.0 L839.0 452.0 L839.0 454.0 L836.0 455.0 L832.0 454.5 L828.0 453.0Z" fill="#d3e4f9" stroke="#ffffff" stroke-opacity="0.55" stroke-width="0.4"/>
<path d="M827.0 455.0 L832.0 454.5 L836.0 456.5 L839.0 454.5 L840.0 458.0 L844.0 461.0 L847.0 462.0 L849.0 463.0 L850.0 465.0 L848.0 467.5 L842.0 470.6 L838.0 472.0 L836.0 470.0 L834.0 467.0 L832.0 464.0 L830.0 461.0 L828.0 458.0Z" fill="#053370" stroke="#ffffff" stroke-opacity="0.55" stroke-width="0.4"/>
<path d="M849.0 463.0 L853.0 465.0 L852.0 468.0 L848.0 469.0 L844.0 470.5 L840.0 471.5 L838.0 472.0 L842.0 470.6 L848.0 467.5 L850.0 465.0Z" fill="#4a8ff0" stroke="#ffffff" stroke-opacity="0.55" stroke-width="0.4"/>
<path d="M886.1 433.4 L888.4 430.0 L894.0 428.0 L900.0 428.0 L906.0 429.0 L912.0 431.0 L918.0 432.0 L923.0 435.0 L920.0 439.0 L912.0 442.6 L904.5 442.6 L899.9 441.5 L893.0 439.2 L889.5 436.9Z" fill="#7db0f0" stroke="#ffffff" stroke-opacity="0.55" stroke-width="0.4"/>
<path d="M872.3 445.0 L878.0 440.3 L883.8 435.7 L886.1 433.4 L889.5 436.9 L893.0 439.2 L899.9 441.5 L904.5 442.6 L912.0 442.6 L920.0 439.0 L923.0 435.0 L921.0 431.0 L923.0 428.0 L926.0 426.0 L930.0 427.0 L934.0 431.0 L937.0 434.0 L940.0 435.0 L941.0 437.0 L939.0 439.0 L935.0 441.0 L930.0 443.0 L926.0 444.0 L924.0 445.0 L922.0 447.0 L924.0 449.0 L925.0 452.0 L924.0 455.0 L925.0 459.0 L923.0 462.0 L920.0 464.0 L915.0 465.5 L910.0 466.0 L906.0 466.0 L902.2 461.1 L897.6 458.8 L894.1 458.8 L888.4 457.6 L883.8 456.5 L879.2 454.2 L874.6 451.9 L873.4 448.4Z" fill="#053370" stroke="#ffffff" stroke-opacity="0.55" stroke-width="0.4"/>
<path d="M928.0 445.0 L931.0 443.0 L935.0 441.0 L936.0 442.0 L934.5 447.0 L931.0 447.5 L929.5 446.5Z" fill="#eef0f3"/>
<path d="M931.0 447.5 L934.5 447.0 L934.5 451.0 L932.5 452.0 L931.0 450.0Z" fill="#053370" stroke="#ffffff" stroke-opacity="0.55" stroke-width="0.4"/>
<path d="M855.8 458.1 L858.7 454.5 L863.0 452.3 L865.9 449.4 L868.8 447.2 L871.7 448.7 L873.9 450.9 L876.1 453.0 L876.8 455.2 L879.0 456.7 L882.6 458.1 L886.2 459.6 L887.7 461.0 L886.2 463.2 L884.0 465.3 L881.1 468.2 L879.0 470.4 L876.8 473.3 L875.3 476.2 L873.9 477.7 L872.4 475.5 L871.0 471.9 L869.6 468.2 L868.1 464.6 L866.7 463.2 L864.5 462.4 L863.0 461.0 L860.1 461.0 L857.2 460.5Z" fill="#0564dc" stroke="#ffffff" stroke-opacity="0.55" stroke-width="0.4"/>
<path d="M877.0 478.3 L879.0 478.8 L879.3 481.0 L877.5 481.0Z" fill="#0564dc" stroke="#ffffff" stroke-opacity="0.55" stroke-width="0.4"/>
<path d="M889.0 460.0 L891.0 459.0 L894.0 459.0 L897.5 459.5 L899.8 462.0 L899.0 466.0 L898.5 470.0 L899.0 474.0 L898.0 475.5 L896.0 472.0 L895.0 468.0 L893.0 465.0 L891.0 462.0Z" fill="#a6c9f5" stroke="#ffffff" stroke-opacity="0.55" stroke-width="0.4"/>
<path d="M898.5 467.5 L901.5 467.0 L904.0 469.0 L904.3 472.5 L902.5 474.5 L901.0 476.0 L901.3 479.4 L900.0 478.0 L899.5 475.0 L898.5 471.0Z" fill="#0a4aa8" stroke="#ffffff" stroke-opacity="0.55" stroke-width="0.4"/>
<path d="M899.8 462.0 L902.0 463.5 L903.5 466.0 L906.5 468.0 L906.8 471.5 L903.5 471.0 L902.0 468.0 L900.0 465.0Z" fill="#4a8ff0" stroke="#ffffff" stroke-opacity="0.55" stroke-width="0.4"/>
<path d="M902.0 462.8 L906.0 465.0 L909.0 467.0 L911.0 471.0 L910.5 474.0 L908.0 477.0 L906.0 477.3 L907.0 474.0 L908.5 471.0 L906.5 468.0 L903.5 466.0Z" fill="#a6c9f5" stroke="#ffffff" stroke-opacity="0.55" stroke-width="0.4"/>
<path d="M903.0 471.5 L906.8 471.3 L907.2 474.5 L905.0 476.0 L903.0 475.0Z" fill="#0a4aa8" stroke="#ffffff" stroke-opacity="0.55" stroke-width="0.4"/>
<path d="M900.5 477.5 L902.0 478.0 L903.5 482.0 L904.3 484.6 L902.5 484.3 L900.5 480.0Z" fill="#0a4aa8" stroke="#ffffff" stroke-opacity="0.55" stroke-width="0.4"/>
<path d="M817.4 437.5 L821.0 436.5 L826.0 436.8 L830.0 437.5 L832.2 439.5 L831.0 442.0 L828.0 443.0 L823.0 443.3 L819.0 443.0 L817.0 441.0Z" fill="#ffffff"/>
<path d="M839.6 435.0 L842.0 434.5 L845.6 435.5 L845.0 438.5 L844.0 441.0 L846.0 444.6 L848.5 448.3 L846.0 448.5 L843.0 446.0 L841.5 443.0 L840.5 439.5Z" fill="#ffffff"/>
<path d="M779.5 417.3 L782.5 418.5 L782.5 421.5 L784.5 423.5 L786.0 426.5 L787.0 429.0 L785.5 430.3 L781.0 430.8 L779.8 429.5 L781.5 427.5 L780.2 424.5 L779.0 422.0 L778.2 419.5Z" fill="#053370" stroke="#ffffff" stroke-opacity="0.55" stroke-width="0.4"/>
<path d="M774.0 424.0 L776.0 423.0 L777.5 425.0 L777.0 428.0 L774.5 428.0 L773.5 426.0Z" fill="#2a64c8" stroke="#ffffff" stroke-opacity="0.55" stroke-width="0.4"/>
<path d="M800.0 447.0 L802.0 446.8 L802.5 448.5 L800.0 448.7Z" fill="#053370" stroke="#ffffff" stroke-opacity="0.55" stroke-width="0.4"/>
<path d="M794.5 443.0 L795.5 443.0 L795.6 445.5 L794.4 445.5Z" fill="#a6c9f5" stroke="#ffffff" stroke-opacity="0.55" stroke-width="0.4"/>
<path d="M796.9 369.8 L803.8 368.1 L813.0 368.1 L810.7 370.4 L808.4 373.8 L803.8 375.6 L800.3 372.7Z" fill="#053370" stroke="#ffffff" stroke-opacity="0.55" stroke-width="0.4"/>
<path d="M863.6 367.5 L861.0 369.0 L856.0 371.5 L852.0 375.0 L848.5 379.0 L846.5 383.0 L846.0 387.0 L847.5 389.0 L848.5 387.0 L849.0 383.0 L851.0 379.5 L854.5 376.0 L858.5 373.0 L863.0 370.5 L864.5 368.5Z" fill="#034ea8" stroke="#ffffff" stroke-opacity="0.55" stroke-width="0.4"/>
<path d="M949.5 425.0 L951.0 427.0 L951.3 431.0 L950.5 433.5 L949.2 430.0Z" fill="#034ea8" stroke="#ffffff" stroke-opacity="0.55" stroke-width="0.4"/>
<path d="M949.0 435.0 L952.0 436.0 L953.0 439.0 L950.5 439.5 L949.0 437.5Z" fill="#053370" stroke="#ffffff" stroke-opacity="0.55" stroke-width="0.4"/>
<path d="M948.0 439.0 L952.0 440.5 L950.3 444.0 L949.3 448.0 L946.3 450.3 L942.0 451.8 L938.3 453.8 L936.2 455.8 L934.8 454.0 L937.0 451.3 L941.0 449.3 L944.3 447.3 L946.3 444.0 L947.0 441.0Z" fill="#053370" stroke="#ffffff" stroke-opacity="0.55" stroke-width="0.4"/>
<path d="M924.0 462.5 L925.5 463.0 L925.0 466.0 L923.8 465.0Z" fill="#053370" stroke="#ffffff" stroke-opacity="0.55" stroke-width="0.4"/>
<path d="M924.3 469.0 L926.0 469.5 L926.5 473.5 L925.0 473.5Z" fill="#053370" stroke="#ffffff" stroke-opacity="0.55" stroke-width="0.4"/>
<path d="M928.0 478.0 L931.0 478.5 L930.5 481.0 L928.5 481.0Z" fill="#0f45a0" stroke="#ffffff" stroke-opacity="0.55" stroke-width="0.4"/>
<path d="M910.0 466.8 L912.0 466.8 L912.0 468.3 L910.0 468.3Z" fill="#053370" stroke="#ffffff" stroke-opacity="0.55" stroke-width="0.4"/>
<path d="M895.8 482.0 L899.8 484.0 L903.5 487.0 L906.8 490.0 L907.5 492.3 L905.0 492.2 L901.5 489.8 L898.0 487.2 L895.4 484.3Z" fill="#0a4aa8" stroke="#ffffff" stroke-opacity="0.55" stroke-width="0.4"/>
<path d="M907.2 492.8 L911.0 493.3 L914.6 494.3 L913.9 495.2 L908.0 494.1Z" fill="#0a4aa8" stroke="#ffffff" stroke-opacity="0.55" stroke-width="0.4"/>
<path d="M911.7 486.1 L914.6 483.9 L918.3 481.7 L920.6 482.4 L921.3 486.1 L919.0 489.0 L915.4 489.8 L912.4 488.3Z" fill="#0a4aa8" stroke="#ffffff" stroke-opacity="0.55" stroke-width="0.4"/>
<path d="M923.5 489.0 L925.7 489.0 L925.7 492.0 L923.8 491.5Z" fill="#0a4aa8" stroke="#ffffff" stroke-opacity="0.55" stroke-width="0.4"/>
<path d="M936.9 487.3 L940.0 487.8 L943.0 488.5 L946.5 489.5 L948.3 491.5 L947.0 494.5 L944.0 494.0 L941.0 492.5 L938.5 490.5Z" fill="#0a4aa8" stroke="#ffffff" stroke-opacity="0.55" stroke-width="0.4"/>
<path d="M948.0 490.6 L952.0 492.0 L955.4 494.0 L954.0 495.2 L949.5 494.3Z" fill="#a6c9f5" stroke="#ffffff" stroke-opacity="0.55" stroke-width="0.4"/>
<path d="M916.7 509.6 L920.0 507.0 L924.0 505.2 L928.0 503.5 L933.0 502.2 L937.4 500.0 L941.9 499.3 L944.8 500.7 L947.8 502.2 L950.7 499.3 L952.0 501.5 L953.7 505.2 L956.0 507.5 L958.1 509.6 L961.1 514.1 L961.5 517.0 L961.1 520.0 L958.1 524.4 L953.7 526.7 L949.3 525.9 L944.8 521.5 L938.9 520.0 L934.0 520.3 L930.0 521.5 L925.0 522.3 L921.1 523.0 L918.1 520.0 L917.4 514.1Z" fill="#053370" stroke="#ffffff" stroke-opacity="0.55" stroke-width="0.4"/>
<path d="M952.5 529.9 L956.6 530.4 L955.8 532.7 L953.3 532.4Z" fill="#053370" stroke="#ffffff" stroke-opacity="0.55" stroke-width="0.4"/>
<path d="M985.3 524.2 L988.6 525.5 L990.6 527.5 L987.3 530.1 L985.7 529.1Z" fill="#053370" stroke="#ffffff" stroke-opacity="0.55" stroke-width="0.4"/>
<path d="M978.8 536.0 L983.4 531.6 L987.0 530.4 L985.7 533.7 L980.4 537.7Z" fill="#053370" stroke="#ffffff" stroke-opacity="0.55" stroke-width="0.4"/>
<path d="M773.0 458.0 L777.0 453.0 L781.0 452.0 L786.0 451.2 L790.0 451.0 L794.0 450.0 L797.0 449.5 L800.0 452.5 L806.0 454.0 L810.0 454.5 L814.0 455.5 L818.0 456.0 L822.0 456.0 L824.5 456.5 L825.5 458.0 L826.5 461.0 L829.0 466.0 L832.0 471.0 L834.5 474.5 L837.3 477.8 L840.6 478.7 L837.3 482.8 L832.4 487.7 L830.7 492.6 L830.7 499.2 L827.4 505.8 L824.1 510.7 L820.9 515.7 L815.9 518.9 L809.3 522.2 L806.1 520.6 L804.4 515.7 L801.9 509.1 L800.3 502.5 L799.5 495.9 L797.8 489.3 L796.2 484.4 L792.9 481.9 L784.7 481.9 L778.1 481.1 L773.2 479.5 L768.2 475.4 L765.8 472.1 L766.6 467.1 L769.0 463.0 L771.5 460.6Z" fill="#eff1f5" stroke="#ffffff" stroke-opacity="0.55" stroke-width="0.4"/>
<path d="M766.6 467.1 L769.0 463.0 L771.5 460.6 L773.0 458.0 L776.5 459.0 L783.0 463.0 L786.5 465.5 L790.0 467.5 L788.0 471.0 L789.0 474.5 L786.0 476.0 L780.0 476.0 L774.0 476.0 L768.0 475.0 L765.8 472.1Z" fill="#eef1f6" stroke="#ffffff" stroke-opacity="0.55" stroke-width="0.4"/>
<path d="M772.5 458.5 L774.5 455.5 L777.0 453.0 L781.0 452.0 L783.0 453.0 L779.5 456.0 L776.5 458.8 L773.5 460.0Z" fill="#0a4aa8" stroke="#ffffff" stroke-opacity="0.55" stroke-width="0.4"/>
<path d="M783.0 453.0 L786.0 451.2 L790.0 451.0 L794.0 450.0 L796.0 451.0 L795.0 455.0 L795.0 460.0 L796.0 463.5 L793.0 465.5 L790.0 467.5 L786.5 465.5 L783.0 463.0 L778.0 460.0 L776.5 458.8 L779.5 456.0Z" fill="#5b9bf2" stroke="#ffffff" stroke-opacity="0.55" stroke-width="0.4"/>
<path d="M797.0 449.5 L800.0 452.5 L806.0 454.0 L810.0 454.5 L814.0 455.5 L814.0 464.5 L810.0 466.0 L804.0 465.0 L796.0 463.5 L795.0 460.0 L795.0 455.0 L796.0 451.0Z" fill="#f3f4f5" stroke="#ffffff" stroke-opacity="0.55" stroke-width="0.4"/>
<path d="M814.0 455.5 L818.0 456.0 L822.0 456.0 L824.5 456.5 L825.5 458.0 L825.5 464.0 L815.0 464.5Z" fill="#0a4aa8" stroke="#ffffff" stroke-opacity="0.55" stroke-width="0.4"/>
<path d="M814.0 464.5 L825.5 464.0 L826.5 461.0 L829.0 466.0 L831.0 470.5 L829.0 476.0 L822.0 479.0 L815.0 477.0 L812.0 472.0Z" fill="#c3ddf8" stroke="#ffffff" stroke-opacity="0.55" stroke-width="0.4"/>
<path d="M790.0 467.5 L796.0 463.5 L800.0 465.0 L802.0 470.0 L800.0 474.0 L795.0 474.5 L790.0 473.0 L788.0 470.5Z" fill="#d6e4f8" stroke="#ffffff" stroke-opacity="0.55" stroke-width="0.4"/>
<path d="M802.0 465.0 L810.0 466.0 L812.0 472.0 L808.0 477.0 L802.0 476.0 L800.0 474.0 L802.0 470.0Z" fill="#c8dff8" stroke="#ffffff" stroke-opacity="0.55" stroke-width="0.4"/>
<path d="M765.6 471.0 L769.5 470.8 L770.5 473.8 L767.3 474.8 L765.8 472.8Z" fill="#c3d9f6" stroke="#ffffff" stroke-opacity="0.55" stroke-width="0.4"/>
<path d="M774.0 476.5 L779.0 476.2 L780.0 481.0 L778.1 481.1 L773.5 479.6Z" fill="#a9c9f4" stroke="#ffffff" stroke-opacity="0.55" stroke-width="0.4"/>
<path d="M779.0 476.2 L785.0 476.0 L786.0 481.3 L780.0 481.0Z" fill="#c9dcf7" stroke="#ffffff" stroke-opacity="0.55" stroke-width="0.4"/>
<path d="M789.0 475.0 L797.0 474.5 L800.0 475.5 L799.0 479.0 L795.0 481.0 L791.0 481.0 L789.0 479.0Z" fill="#6aa6f2" stroke="#ffffff" stroke-opacity="0.55" stroke-width="0.4"/>
<path d="M831.0 470.5 L832.0 471.0 L834.5 474.5 L837.3 477.8 L840.6 478.7 L837.3 482.8 L833.0 481.5 L829.0 480.0 L828.0 476.0Z" fill="#d3e4f9" stroke="#ffffff" stroke-opacity="0.55" stroke-width="0.4"/>
<path d="M824.1 483.6 L832.4 483.1 L832.7 489.3 L826.1 491.3Z" fill="#4a8ff0" stroke="#ffffff" stroke-opacity="0.55" stroke-width="0.4"/>
<path d="M820.9 489.3 L830.7 489.3 L831.0 497.6 L822.5 497.9Z" fill="#a6c9f5" stroke="#ffffff" stroke-opacity="0.55" stroke-width="0.4"/>
<path d="M799.5 492.6 L809.3 492.6 L809.7 504.1 L801.4 504.1Z" fill="#a6c9f5" stroke="#ffffff" stroke-opacity="0.55" stroke-width="0.4"/>
<path d="M800.3 504.1 L807.7 504.1 L808.5 512.4 L804.4 515.7 L801.9 509.1Z" fill="#a6c9f5" stroke="#ffffff" stroke-opacity="0.55" stroke-width="0.4"/>
<path d="M807.7 504.1 L815.9 504.1 L815.9 512.4 L808.5 512.4Z" fill="#d3e4f9" stroke="#ffffff" stroke-opacity="0.55" stroke-width="0.4"/>
<path d="M809.3 495.9 L820.9 495.9 L830.7 499.2 L827.4 505.8 L822.5 510.7 L815.9 504.1 L809.3 504.1Z" fill="#bcd6f6" stroke="#ffffff" stroke-opacity="0.55" stroke-width="0.4"/>
<path d="M804.4 515.7 L809.3 512.4 L815.9 512.4 L819.2 510.7 L822.5 514.9 L819.2 518.9 L814.3 520.6 L809.3 522.2 L806.1 520.6Z" fill="#053370" stroke="#ffffff" stroke-opacity="0.55" stroke-width="0.4"/>
<path d="M839.0 500.5 L841.8 499.5 L842.4 504.7 L839.7 511.0 L837.0 511.0 L837.6 505.0Z" fill="#c4d9f6" stroke="#ffffff" stroke-opacity="0.55" stroke-width="0.4"/>
<g stroke="#5d7fb8" stroke-width="0.5"><line x1="641.2" y1="432.6" x2="680" y2="432.6"/><line x1="621.2" y1="392.6" x2="621.2" y2="412.5"/></g><g fill="none" stroke="#8fb0e0" stroke-width="0.5"><polyline points="704.3,507 704.8,512 703.8,520 702,528 701,535 699.5,542 701,547"/><polyline points="700,489.5 702,491 702.5,495 704,498"/><polyline points="866,449 867.5,452 866.5,455 864.5,457 865,460 864.5,462.4"/></g></svg>

<div id="src" class="a cjk">数据来源：<span style="margin-left:-3px;letter-spacing:0.15px">statista</span></div>
<div id="wm" class="a"><span>w</span><span>w</span><span>w</span><span>.</span><span>1</span><span>0</span><span>1</span><span>0</span><span>0</span><span>.</span><span>c</span><span>o</span><span>m</span></div>
<svg class="a" style="left:1005px;top:538px" width="60" height="48" viewBox="1005 538 60 48">
  <g fill="none" stroke="#7a7a80" stroke-width="0.9">
    <polyline points="1012,557 1026.8,546.2 1041.2,557.4"/>
    <line x1="1014" y1="555.6" x2="1014" y2="581"/>
    <line x1="1054.7" y1="557.3" x2="1054.7" y2="581"/>
    <line x1="1014" y1="573.3" x2="1054.7" y2="573.3"/>
    <rect x="1018.8" y="562.3" width="7" height="7"/>
    <line x1="1018.8" y1="565" x2="1025.8" y2="565"/><line x1="1022.3" y1="562.3" x2="1022.3" y2="565"/>
    <rect x="1041.8" y="562.3" width="7.8" height="7"/>
    <line x1="1041.8" y1="565" x2="1049.6" y2="565"/><line x1="1045.7" y1="562.3" x2="1045.7" y2="565"/>
    <path d="M1030.6 573.3 V562 A2.8 2.8 0 0 1 1036.2 562 V573.3"/>
    <path d="M1042.6 549 V545 L1044.5 544.2 L1046.4 545 V549"/>
  </g>
  <polygon points="1031.3,549.1 1055.9,549.1 1056.4,557.3 1041.2,557.7" fill="#3aa1c2"/>
  <line x1="1025.6" y1="557.2" x2="1032" y2="552" stroke="#e9a0b0" stroke-width="0.6"/>
  <text x="1034.5" y="581.2" text-anchor="middle" font-family="Liberation Sans, sans-serif" font-weight="bold" font-size="7.2" letter-spacing="1.3" fill="#45454d">SMART</text>
</svg>
<div id="botbar" class="a"></div>
</body>
</html>
